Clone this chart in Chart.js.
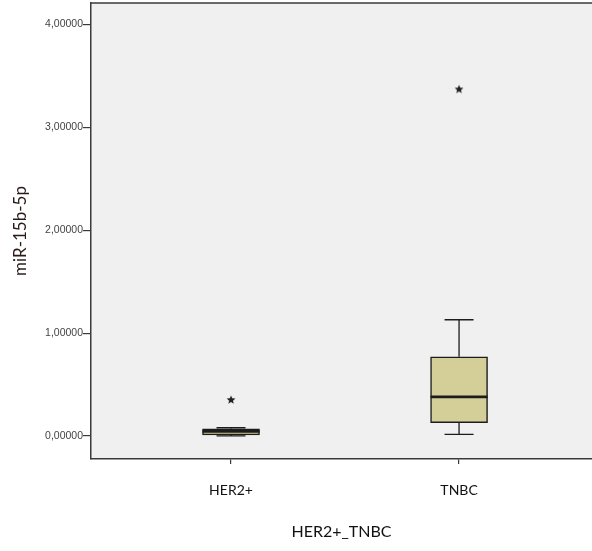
<!DOCTYPE html>
<html>
<head>
<meta charset="utf-8">
<script src="https://cdn.jsdelivr.net/npm/chart.js@4/dist/chart.umd.min.js"></script>
<style>
  html, body { margin: 0; padding: 0; background: #ffffff; overflow: hidden; }
  #c { display: block; }
</style>
</head>
<body>
<canvas id="c" width="592" height="551"></canvas>
<script>
// Box-plot summary for miR-15b-5p by subtype
const groups = ['HER2+', 'TNBC'];
const whiskerLow = [0.00, 0.015];
const q1 = [0.01, 0.13];
const median = [0.045, 0.38];
const q3 = [0.07, 0.77];
const whiskerHigh = [0.08, 1.13];
const outliers = [[0.35], [3.37]];
const yTicks = [0, 1, 2, 3, 4];

const boxFill = '#D4CF99';
const lineColor = '#1c1c1c';
const frameColor = '#3a3a3a';

// Filled five-point star used for extreme values
function makeStar(r) {
  const size = Math.ceil(r * 2 + 2);
  const cv = document.createElement('canvas');
  cv.width = size; cv.height = size;
  const g = cv.getContext('2d');
  const cx = size / 2, cy = size / 2;
  g.beginPath();
  for (let i = 0; i < 10; i++) {
    const rad = i % 2 === 0 ? r : r * 0.45;
    const a = -Math.PI / 2 + i * Math.PI / 5;
    const px = cx + rad * Math.cos(a), py = cy + rad * Math.sin(a);
    if (i === 0) g.moveTo(px, py); else g.lineTo(px, py);
  }
  g.closePath();
  g.fillStyle = '#222';
  g.fill();
  return cv;
}
const starImg = makeStar(4.6);

const boxData = groups.map((g, i) => ({ x: i, y: [q1[i], q3[i]] }));
const outlierData = [];
outliers.forEach((arr, i) => arr.forEach(v => outlierData.push({ x: i, y: v })));

// Plot background and top frame line
const areaPlugin = {
  id: 'area',
  beforeDraw(chart) {
    const { ctx, chartArea: a } = chart;
    ctx.save();
    ctx.fillStyle = '#F0F0F0';
    ctx.fillRect(a.left, a.top, a.right - a.left, a.bottom - a.top);
    ctx.restore();
  },
  afterDraw(chart) {
    const { ctx, chartArea: a } = chart;
    ctx.save();
    ctx.strokeStyle = frameColor;
    ctx.lineWidth = 1.5;
    ctx.beginPath();
    ctx.moveTo(a.left, a.top);
    ctx.lineTo(a.right + 2, a.top);
    ctx.stroke();
    ctx.restore();
  }
};

// Whiskers, caps and medians
const whiskerPlugin = {
  id: 'whiskers',
  afterDatasetsDraw(chart) {
    const { ctx, scales: { x, y } } = chart;
    const boxW = 57, capW = 29;
    ctx.save();
    ctx.strokeStyle = lineColor;
    groups.forEach((g, i) => {
      const cx = x.getPixelForValue(i);
      ctx.lineWidth = 1.3;
      ctx.beginPath();
      ctx.moveTo(cx, y.getPixelForValue(q3[i]));
      ctx.lineTo(cx, y.getPixelForValue(whiskerHigh[i]));
      ctx.moveTo(cx, y.getPixelForValue(q1[i]));
      ctx.lineTo(cx, y.getPixelForValue(whiskerLow[i]));
      ctx.moveTo(cx - capW / 2, y.getPixelForValue(whiskerHigh[i]));
      ctx.lineTo(cx + capW / 2, y.getPixelForValue(whiskerHigh[i]));
      ctx.moveTo(cx - capW / 2, y.getPixelForValue(whiskerLow[i]));
      ctx.lineTo(cx + capW / 2, y.getPixelForValue(whiskerLow[i]));
      ctx.stroke();
      ctx.lineWidth = 2.6;
      ctx.beginPath();
      ctx.moveTo(cx - boxW / 2, y.getPixelForValue(median[i]));
      ctx.lineTo(cx + boxW / 2, y.getPixelForValue(median[i]));
      ctx.stroke();
    });
    ctx.restore();
  }
};

new Chart(document.getElementById('c'), {
  data: {
    datasets: [
      {
        type: 'bar',
        data: boxData,
        backgroundColor: boxFill,
        borderColor: lineColor,
        borderWidth: 1.5,
        borderSkipped: false,
        barThickness: 57,
        grouped: false,
        order: 2
      },
      {
        type: 'scatter',
        data: outlierData,
        pointStyle: starImg,
        order: 1
      }
    ]
  },
  options: {
    responsive: false,
    devicePixelRatio: 1,
    animation: false,
    layout: { autoPadding: false, padding: { top: 3, left: 0, right: 0, bottom: 0 } },
    plugins: { legend: { display: false }, tooltip: { enabled: false } },
    scales: {
      x: {
        type: 'linear',
        offset: false,
        min: -0.614,
        max: 1.583,
        afterBuildTicks(scale) { scale.ticks = groups.map((g, i) => ({ value: i })); },
        afterFit(scale) { scale.height = 92; },
        ticks: {
          callback: v => groups[v],
          color: '#111',
          font: { family: 'Lato', size: 14 },
          padding: 18,
          maxRotation: 0
        },
        grid: { drawOnChartArea: false, offset: false, tickLength: 5, color: frameColor, lineWidth: 1.2 },
        border: { display: true, color: frameColor, width: 1.5 },
        title: {
          display: true,
          text: 'HER2+_TNBC',
          color: '#111',
          font: { family: 'Lato', size: 16 },
          padding: { top: 4, bottom: 10 }
        }
      },
      y: {
        min: -0.224,
        max: 4.21,
        afterBuildTicks(scale) { scale.ticks = yTicks.map(v => ({ value: v })); },
        afterFit(scale) { scale.width = 91; },
        ticks: {
          callback: v => v.toFixed(5).replace('.', ','),
          color: '#444',
          font: { family: 'Liberation Sans', size: 10.5, lineHeight: 0.5 },
          padding: 0
        },
        grid: { drawOnChartArea: false, tickLength: 8, color: frameColor, lineWidth: 1.2 },
        border: { display: true, color: frameColor, width: 1.5 },
        title: {
          display: true,
          text: 'miR-15b-5p',
          color: '#2a1a1a',
          font: { family: 'Lato', size: 17 },
          padding: { top: 10, bottom: 0 }
        }
      }
    }
  },
  plugins: [areaPlugin, whiskerPlugin]
});
</script>
</body>
</html>
